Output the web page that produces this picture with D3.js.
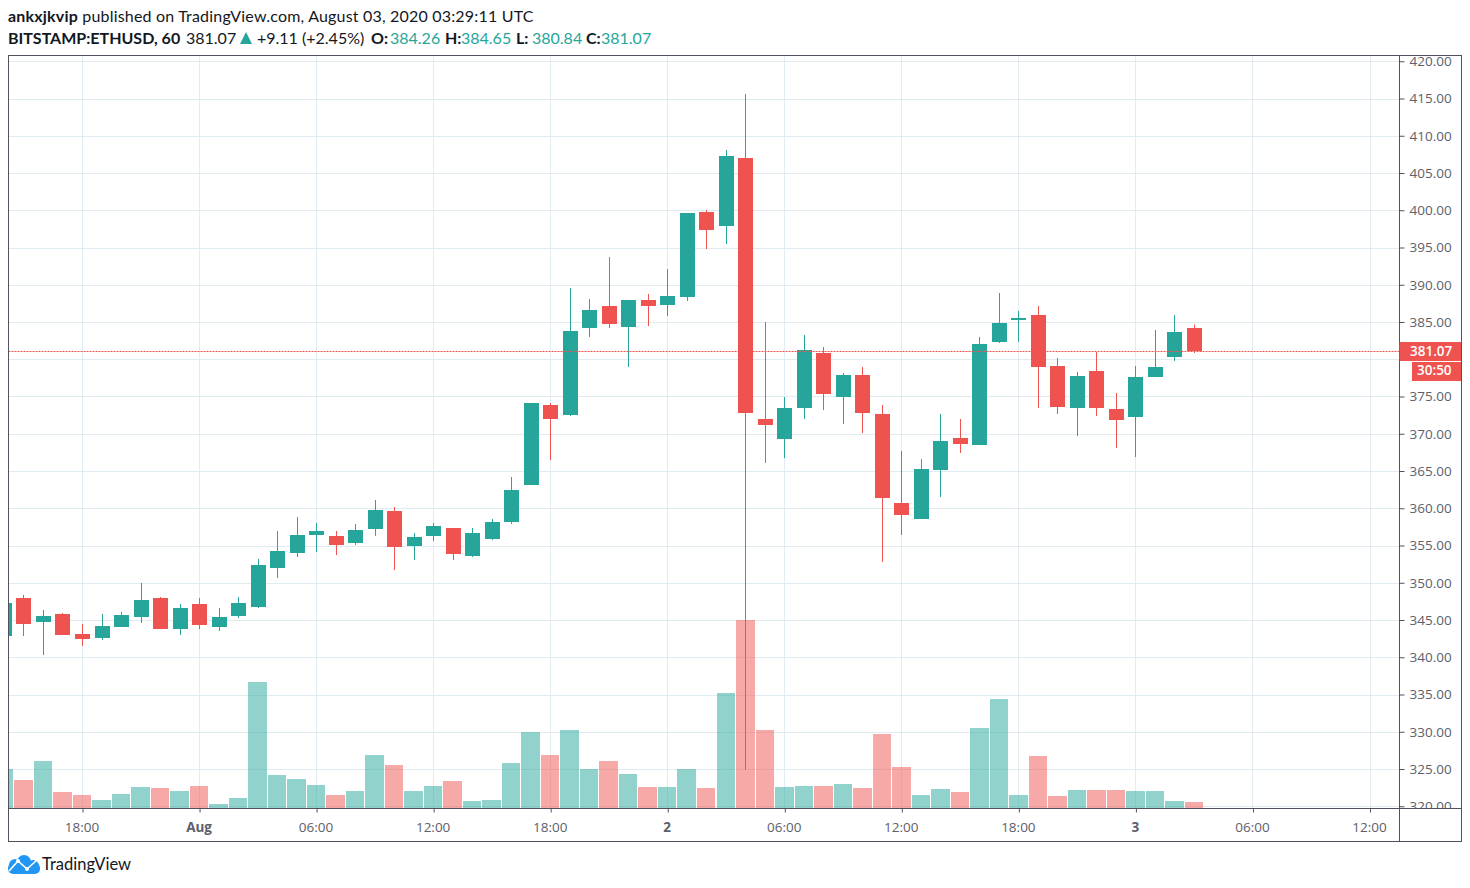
<!DOCTYPE html>
<html>
<head>
<meta charset="utf-8">
<script src="https://cdn.jsdelivr.net/npm/d3@7"></script>
<style>
  html, body { margin: 0; padding: 0; background: #fff; }
  svg { display: block; }
  .axis-label { font-family: "Open Sans", "DejaVu Sans", sans-serif; font-size: 13.5px; fill: #5d606b; }
  .head { font-family: Lato, sans-serif; font-size: 16px; fill: #131722; }
</style>
</head>
<body>
<svg id="chart" width="1470" height="888"></svg>
<script>
// ETHUSD hourly candles, one entry per hour from Jul 31 14:00 UTC
const startHour = Date.UTC(2020, 6, 31, 14);
const opens = [342.85,347.95,344.73,345.81,343.12,342.58,344.06,345.40,347.95,343.79,347.15,344.06,345.54,346.74,351.98,353.99,356.41,356.28,355.34,357.21,359.63,354.93,356.28,357.35,353.59,355.87,358.15,363.12,373.86,372.52,384.19,387.15,384.33,387.95,387.28,388.36,399.77,397.89,407.01,371.98,369.30,373.46,380.84,374.93,377.89,372.65,360.70,358.56,365.13,369.43,368.49,382.32,385.27,385.94,379.09,373.46,378.42,373.32,372.25,377.62,380.30,384.26];
const closes = [347.28,344.46,345.54,342.99,342.45,344.19,345.67,347.68,343.79,346.61,344.33,345.40,347.28,352.38,354.26,356.41,356.95,355.07,357.08,359.77,354.80,356.14,357.62,353.86,356.68,358.15,362.45,374.13,371.98,383.79,386.61,384.73,387.95,387.15,388.49,399.63,397.35,407.28,372.79,371.17,373.46,381.24,375.34,377.89,372.79,361.38,359.09,365.27,369.03,368.62,382.05,384.87,385.54,378.96,373.59,377.75,373.46,371.85,377.62,378.96,383.66,381.07];
const highs = [347.28,348.36,346.34,345.94,344.46,345.81,346.07,349.97,348.09,347.15,347.95,346.61,348.09,353.19,356.95,358.83,358.02,356.95,357.89,361.11,360.17,356.68,358.02,357.35,357.35,358.56,364.19,374.13,374.13,389.56,388.09,393.72,387.95,388.76,392.11,399.63,400.03,408.09,415.60,385.00,374.93,383.26,381.64,378.15,378.96,373.86,367.68,366.61,372.65,371.98,382.99,388.89,386.48,387.15,380.17,378.29,380.97,375.47,379.09,383.93,385.94,384.65];
const lows = [342.85,342.85,340.30,342.99,341.51,342.32,344.06,344.60,343.79,342.99,343.79,343.52,345.27,346.61,350.64,353.46,354.13,353.72,355.07,356.28,351.71,353.05,355.60,353.05,353.46,355.74,357.89,363.12,366.48,372.38,382.99,384.19,378.96,384.46,385.81,387.82,394.80,395.47,324.87,366.07,366.74,371.98,373.19,371.31,370.10,352.79,356.41,358.56,361.51,367.42,368.49,382.18,382.32,373.46,372.65,369.70,372.38,368.09,366.88,377.62,379.77,380.84];
const volumes = [39,28,47,16,13,8,14,21,20,17,22,4,10,126,33,29,23,13,17,53,43,17,22,27,7,8,45,76,53,78,39,47,34,21,21,39,20,115,188,78,21,22,22,24,20,74,41,13,19,16,80,109,13,52,12,18,18,18,17,17,7,6];

const priceTicks = [320,325,330,335,340,345,350,355,360,365,370,375,380,385,390,395,400,405,410,415,420];
const timeTicks = ["Jul 31 18:00","Aug 1 00:00","Aug 1 06:00","Aug 1 12:00","Aug 1 18:00","Aug 2 00:00","Aug 2 06:00","Aug 2 12:00","Aug 2 18:00","Aug 3 00:00","Aug 3 06:00","Aug 3 12:00"];
const timeLabels = ["18:00","Aug","06:00","12:00","18:00","2","06:00","12:00","18:00","3","06:00","12:00"];
const lastPrice = 381.07;
const countdown = "30:50";

const up = "#26a69a";
const down = "#ef5350";
const frame = "#50535e";
const gridColor = "#e1ecf2";

const plotLeft = 8.5, plotRight = 1461.5, axisX = 1399.5, plotTop = 55.5, plotBottom = 841.5, axisY = 808.5;

const svg = d3.select("#chart");

const parseTick = d3.utcParse("%Y %b %d %H:%M");
const tickDates = timeTicks.map(d => parseTick("2020 " + d));
const candleDates = opens.map((d, i) => new Date(startHour + i * 3600000));

const x = d3.scaleUtc()
  .domain([tickDates[0], tickDates[tickDates.length - 1]])
  .range([82.5, 1370]);

const y = d3.scaleLinear()
  .domain([320, 420])
  .range([806.25, 61.25]);

const volY = d3.scaleLinear()
  .domain([0, d3.max(volumes)])
  .range([axisY, 620]);

svg.append("defs").append("clipPath").attr("id", "plot")
  .append("rect")
  .attr("x", plotLeft).attr("y", plotTop)
  .attr("width", axisX - plotLeft).attr("height", axisY - plotTop);

svg.append("defs").append("clipPath").attr("id", "priceAxis")
  .append("rect")
  .attr("x", axisX).attr("y", plotTop)
  .attr("width", plotRight - axisX).attr("height", axisY - plotTop);

const plot = svg.append("g").attr("clip-path", "url(#plot)");

// grid
plot.selectAll(".hgrid")
  .data(priceTicks)
  .enter()
  .append("line")
  .attr("x1", plotLeft).attr("x2", axisX)
  .attr("y1", d => Math.round(y(d)) + 0.5).attr("y2", d => Math.round(y(d)) + 0.5)
  .attr("stroke", gridColor);

plot.selectAll(".vgrid")
  .data(tickDates)
  .enter()
  .append("line")
  .attr("x1", d => Math.floor(x(d)) + 0.5).attr("x2", d => Math.floor(x(d)) + 0.5)
  .attr("y1", plotTop).attr("y2", axisY)
  .attr("stroke", gridColor);

// volume, bars snapped to pixels so a 1px gap stays between them
plot.selectAll(".vol")
  .data(volumes)
  .enter()
  .append("rect")
  .attr("x", (d, i) => Math.round(x(candleDates[i]) - 9.75))
  .attr("width", (d, i) => Math.round(x(candleDates[i]) + 9.75) - 1 - Math.round(x(candleDates[i]) - 9.75))
  .attr("y", d => volY(d))
  .attr("height", d => axisY - volY(d))
  .attr("fill", (d, i) => closes[i] >= opens[i] ? up : down)
  .attr("fill-opacity", 0.5)
  .attr("shape-rendering", "crispEdges");

// wicks
plot.selectAll(".wick")
  .data(opens)
  .enter()
  .append("line")
  .attr("x1", (d, i) => Math.floor(x(candleDates[i])) + 0.5)
  .attr("x2", (d, i) => Math.floor(x(candleDates[i])) + 0.5)
  .attr("y1", (d, i) => y(highs[i]))
  .attr("y2", (d, i) => y(lows[i]))
  .attr("stroke", (d, i) => closes[i] >= opens[i] ? up : down);

// bodies
plot.selectAll(".body")
  .data(opens)
  .enter()
  .append("rect")
  .attr("x", (d, i) => Math.floor(x(candleDates[i])) - 7)
  .attr("width", 15)
  .attr("y", (d, i) => y(Math.max(opens[i], closes[i])))
  .attr("height", (d, i) => Math.max(1, Math.abs(y(opens[i]) - y(closes[i]))))
  .attr("fill", (d, i) => closes[i] >= opens[i] ? up : down)
  .attr("shape-rendering", "crispEdges");

// last price line
plot.append("line")
  .attr("x1", plotLeft).attr("x2", axisX)
  .attr("y1", Math.round(y(lastPrice)) + 0.5).attr("y2", Math.round(y(lastPrice)) + 0.5)
  .attr("stroke", down)
  .attr("stroke-dasharray", "2 1");

// price axis
const priceAxis = svg.append("g")
  .attr("clip-path", "url(#priceAxis)")
  .append("g")
  .attr("transform", `translate(${axisX},0)`)
  .call(d3.axisRight(y).tickValues(priceTicks).tickSize(5).tickPadding(5).tickFormat(d3.format(".2f")));
priceAxis.select(".domain").remove();
priceAxis.selectAll("line").attr("stroke", frame);
priceAxis.selectAll("text").attr("class", "axis-label").attr("fill", null);
// the 380 label sits fully behind the last price tags
priceAxis.selectAll(".tick").filter(d => Math.abs(d - lastPrice) < 2.5).select("text").remove();

// time axis
const timeAxis = svg.append("g")
  .attr("transform", `translate(0,${axisY})`)
  .call(d3.axisBottom(x).tickValues(tickDates).tickSize(4).tickPadding(10).tickFormat((d, i) => timeLabels[i]));
timeAxis.select(".domain").remove();
timeAxis.selectAll("line").attr("stroke", frame);
timeAxis.selectAll("text")
  .attr("class", "axis-label")
  .attr("fill", null)
  .attr("dx", -1)
  .style("font-weight", (d, i) => timeLabels[i].includes(":") ? null : "bold");

// frame
svg.append("rect")
  .attr("x", plotLeft).attr("y", plotTop)
  .attr("width", plotRight - plotLeft).attr("height", plotBottom - plotTop)
  .attr("fill", "none").attr("stroke", frame);
svg.append("line").attr("x1", plotLeft).attr("x2", plotRight).attr("y1", axisY).attr("y2", axisY).attr("stroke", frame);
svg.append("line").attr("x1", axisX).attr("x2", axisX).attr("y1", plotTop).attr("y2", plotBottom).attr("stroke", frame);

// last price tags
svg.append("rect").attr("x", axisX).attr("y", 342).attr("width", plotRight - axisX - 0.5).attr("height", 19).attr("fill", down);
svg.append("rect").attr("x", 1412).attr("y", 362).attr("width", plotRight - 1412 - 0.5).attr("height", 19).attr("fill", down);
svg.append("text").attr("class", "axis-label").attr("x", 1410).attr("y", 355.5)
  .style("fill", "#fff").style("font-weight", 600).text(d3.format(".2f")(lastPrice));
svg.append("text").attr("class", "axis-label").attr("x", 1417).attr("y", 375)
  .style("fill", "#fff").style("font-weight", 600).text(countdown);

// header
svg.append("text").attr("class", "head").attr("x", 8).attr("y", 22)
  .style("letter-spacing", "0.19px")
  .html('<tspan font-weight="bold">ankxjkvip</tspan> published on TradingView.com, August 03, 2020 03:29:11 UTC');

const headerBits = [
  { t: "BITSTAMP:ETHUSD, 60", x: 8, b: true },
  { t: "381.07", x: 186 },
  { t: "+9.11 (+2.45%)", x: 257 },
  { t: "O:", x: 371, b: true },
  { t: "384.26", x: 390, c: up },
  { t: "H:", x: 445, b: true },
  { t: "384.65", x: 461, c: up },
  { t: "L:", x: 516, b: true },
  { t: "380.84", x: 532, c: up },
  { t: "C:", x: 586, b: true },
  { t: "381.07", x: 601, c: up }
];
svg.selectAll(".bit")
  .data(headerBits)
  .enter()
  .append("text")
  .attr("class", "head")
  .attr("x", d => d.x)
  .attr("y", 44)
  .style("font-weight", d => d.b ? "bold" : null)
  .style("fill", d => d.c || null)
  .text(d => d.t);

svg.append("path").attr("d", "M240 44 L246 32 L252 44 Z").attr("fill", up);

// logo
const logo = svg.append("g").attr("fill", "#2196f3");
logo.append("rect").attr("x", 8).attr("y", 863).attr("width", 32).attr("height", 11).attr("rx", 5);
logo.append("circle").attr("cx", 15).attr("cy", 865).attr("r", 6);
logo.append("circle").attr("cx", 24).attr("cy", 862).attr("r", 7);
logo.append("circle").attr("cx", 33).attr("cy", 866).attr("r", 6);
svg.append("path").attr("d", "M9 871 L18 861 L27 869 L37 860")
  .attr("fill", "none").attr("stroke", "#fff").attr("stroke-width", 1.6);
svg.selectAll(".logo-dot")
  .data([[18, 861], [27, 869]])
  .enter()
  .append("circle")
  .attr("cx", d => d[0]).attr("cy", d => d[1]).attr("r", 2).attr("fill", "#fff");
svg.append("text").attr("x", 42).attr("y", 870)
  .style("font-family", "Lato, sans-serif").style("font-size", "16.5px").style("fill", "#131722")
  .text("TradingView");
</script>
</body>
</html>
